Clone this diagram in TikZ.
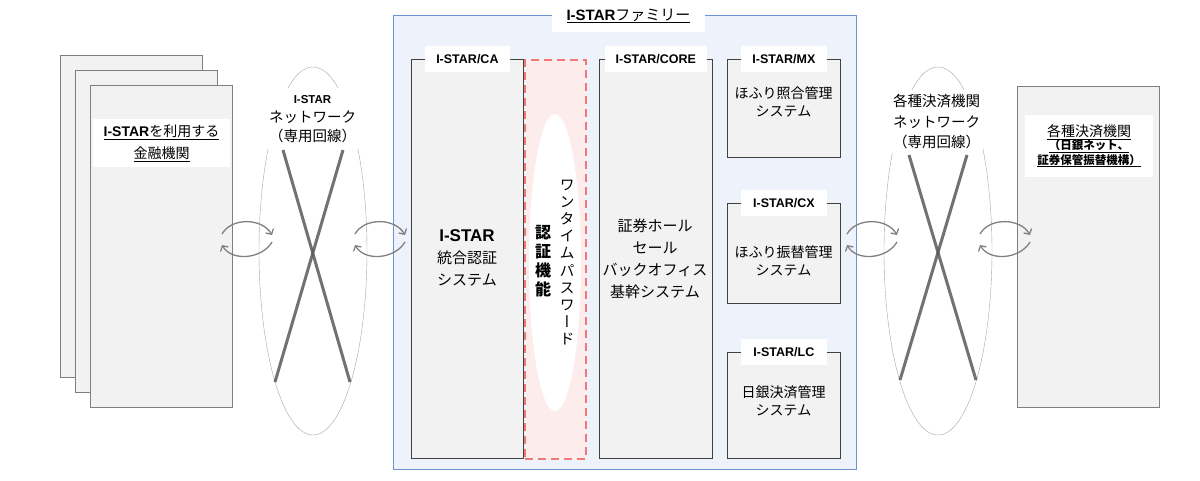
\documentclass[tikz,border=0pt]{standalone}
\usepackage{fontspec}
\setmainfont{Noto Sans CJK JP}
\newfontfamily\latinbold{Liberation Sans}
\newfontfamily\vjp[RawFeature=+vert]{Noto Sans CJK JP}
\usetikzlibrary{arrows.meta,shapes.geometric}
\definecolor{boxgray}{RGB}{242,242,242}
\definecolor{pageline}{RGB}{127,127,127}
\definecolor{sysline}{RGB}{64,64,64}
\definecolor{familyfill}{RGB}{238,242,250}
\definecolor{familyline}{RGB}{112,146,210}
\definecolor{otpfill}{RGB}{253,236,236}
\definecolor{otpline}{RGB}{240,120,120}
\definecolor{ringline}{RGB}{166,166,166}
\definecolor{crossline}{RGB}{89,89,89}
\definecolor{arrowgray}{RGB}{128,128,128}
\newcommand{\istar}{{\latinbold\bfseries I-STAR}}
\begin{document}
\begin{tikzpicture}[x=1pt,y=-1pt,
  page/.style={draw=pageline,fill=boxgray,anchor=north west,inner sep=0pt},
  sysbox/.style={draw=sysline,fill=boxgray,line width=.8pt,anchor=north west,inner sep=0pt},
  family/.style={draw=familyline,fill=familyfill,line width=.8pt,anchor=north west,inner sep=0pt},
  otpbox/.style={draw=otpline,fill=otpfill,line width=2.3pt,dash pattern=on 8pt off 5pt,anchor=north west,inner sep=0pt},
  tab/.style={fill=white,inner sep=0pt,minimum height=26,font=\latinbold\bfseries\fontsize{12.5}{14}\selectfont},
  whitelabel/.style={fill=white,inner sep=0pt,align=center},
  body/.style={align=center,inner sep=0pt,font=\fontsize{15}{22}\selectfont},
  small/.style={align=center,inner sep=0pt,font=\fontsize{14}{18}\selectfont},
  netring/.style={draw=ringline,ellipse,minimum width=108,minimum height=368,inner sep=0pt},
  cross/.style={draw=crossline,line width=3pt,opacity=.85},
  swap/.style={draw=arrowgray,line width=1.3pt,-{Straight Barb[length=4pt,width=9pt]}}]

\useasboundingbox (0,0) rectangle (1200,481);

% financial institutions (stacked pages)
\node[page,minimum width=142,minimum height=322] (P1) at (60,55) {};
\node[page,minimum width=142,minimum height=322] (P2) at (75,70) {};
\node[page,minimum width=142,minimum height=322] (P3) at (90,85) {};
\node[whitelabel,minimum width=137,minimum height=48,font=\fontsize{14}{22}\selectfont] (P3l) at (161.5,143)
  {\underline{\istar を利用する}\\\underline{金融機関}};

% I-STAR network
\node[netring] (N1) at (313,251) {};
\coordinate (N1a) at (283,150);
\coordinate (N1b) at (350,382);
\coordinate (N1c) at (343,150);
\coordinate (N1d) at (275,382);
\draw[cross] (N1a) -- (N1b);
\draw[cross] (N1c) -- (N1d);
\node[whitelabel,minimum width=99,minimum height=61,font=\fontsize{14.5}{19}\selectfont] (N1l) at (312.5,119)
  {{\latinbold\bfseries\fontsize{11.5}{13}\selectfont I-STAR}\\ネットワーク\\（専用回線）};

% I-STAR family
\node[family,minimum width=463,minimum height=454] (F) at (393,15) {};
\node[whitelabel,minimum width=153,minimum height=32,font=\fontsize{15}{18}\selectfont] (Ft) at (628.5,16)
  {\underline{\istar ファミリー}};

\node[sysbox,minimum width=112,minimum height=399] (CA) at (411,59) {};
\node[tab,minimum width=85] (CAt) at (CA.north) {I-STAR/CA};
\node[body] (CAx) at (467,258) {{\latinbold\bfseries\fontsize{17}{22}\selectfont I-STAR}\\統合認証\\システム};

\node[otpbox,minimum width=61,minimum height=399] (OTP) at (524,59) {};
\node[fill=white,ellipse,minimum width=52,minimum height=297,inner sep=0pt] (OTPe) at (555,262.5) {};
\node[align=center,inner sep=0pt,font=\vjp\fontsize{15}{17.2}\selectfont] (OTPa) at (567,262.5)
  {ワ\\ン\\タ\\イ\\ム\\パ\\ス\\ワ\\ー\\ド};
\node[align=center,inner sep=0pt,font=\vjp\bfseries\fontsize{16}{19}\selectfont] (OTPb) at (543,261)
  {認\\証\\機\\能};

\node[sysbox,minimum width=113,minimum height=399] (CORE) at (599,59) {};
\node[tab,minimum width=102] (COREt) at (CORE.north) {I-STAR/CORE};
\node[body] (COREx) at (655,259) {証券ホール\\セール\\バックオフィス\\基幹システム};

\node[sysbox,minimum width=113,minimum height=98] (MX) at (727,59) {};
\node[tab,minimum width=86] (MXt) at (MX.north) {I-STAR/MX};
\node[small] (MXx) at (783.5,102) {ほふり照合管理\\システム};

\node[sysbox,minimum width=113,minimum height=100] (CX) at (727,203) {};
\node[tab,minimum width=86] (CXt) at (CX.north) {I-STAR/CX};
\node[small] (CXx) at (783.5,261) {ほふり振替管理\\システム};

\node[sysbox,minimum width=113,minimum height=106] (LC) at (727,352) {};
\node[tab,minimum width=86] (LCt) at (LC.north) {I-STAR/LC};
\node[small] (LCx) at (783.5,401) {日銀決済管理\\システム};

% settlement network
\node[netring] (N2) at (938,251) {};
\coordinate (N2a) at (909,155);
\coordinate (N2b) at (976,380);
\coordinate (N2c) at (967,155);
\coordinate (N2d) at (900,380);
\draw[cross] (N2a) -- (N2b);
\draw[cross] (N2c) -- (N2d);
\node[whitelabel,minimum width=93,minimum height=63,font=\fontsize{14.5}{20.5}\selectfont] (N2l) at (936.5,122)
  {各種決済機関\\ネットワーク\\（専用回線）};

% settlement institutions
\node[page,minimum width=142,minimum height=321] (S) at (1017,86) {};
\node[whitelabel,minimum width=128,minimum height=62] (Sl) at (1089,146)
  {{\fontsize{14}{19}\selectfont\underline{各種決済機関}}\\[-1pt]
   {\bfseries\fontsize{11.5}{17}\selectfont\underline{（日銀ネット、}}\\
   {\bfseries\fontsize{11.5}{17}\selectfont\underline{証券保管振替機構）}}};

% two-way arrows
\coordinate (A1) at (222,234); \coordinate (A2) at (272,235);
\coordinate (A3) at (272,242); \coordinate (A4) at (222,245);
\coordinate (B1) at (355,234); \coordinate (B2) at (405,235);
\coordinate (B3) at (405,242); \coordinate (B4) at (355,245);
\coordinate (C1) at (847,234); \coordinate (C2) at (897,235);
\coordinate (C3) at (897,242); \coordinate (C4) at (847,245);
\coordinate (D1) at (980,234); \coordinate (D2) at (1030,235);
\coordinate (D3) at (1030,242); \coordinate (D4) at (980,245);
\draw[swap] (A1) to[out=60,in=120] (A2);
\draw[swap] (A3) to[out=240,in=300] (A4);
\draw[swap] (B1) to[out=60,in=120] (B2);
\draw[swap] (B3) to[out=240,in=300] (B4);
\draw[swap] (C1) to[out=60,in=120] (C2);
\draw[swap] (C3) to[out=240,in=300] (C4);
\draw[swap] (D1) to[out=60,in=120] (D2);
\draw[swap] (D3) to[out=240,in=300] (D4);
\end{tikzpicture}
\end{document}
